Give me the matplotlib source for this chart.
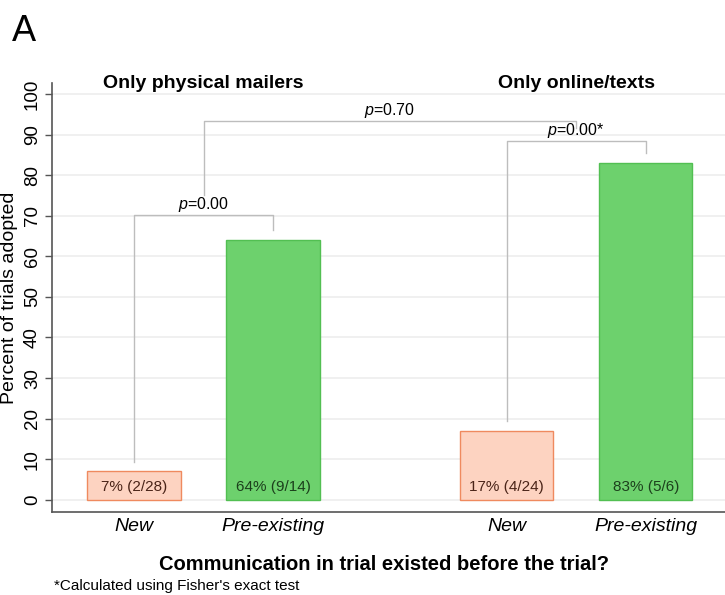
import matplotlib
matplotlib.use("Agg")
import matplotlib.pyplot as plt

plt.rcParams['font.family'] = ['Liberation Sans', 'DejaVu Sans']
plt.rcParams['mathtext.fontset'] = 'custom'
plt.rcParams['mathtext.it'] = 'Liberation Sans:italic'
plt.rcParams['mathtext.rm'] = 'Liberation Sans'

# data
groups = ["Only physical mailers", "Only online/texts"]
categories = ["New", "Pre-existing", "New", "Pre-existing"]
percent = [7, 64, 17, 83]
bar_labels = ["7% (2/28)", "64% (9/14)", "17% (4/24)", "83% (5/6)"]
p_within = ["$p$=0.00", "$p$=0.00*"]
p_between = "$p$=0.70"

xpos = [0, 1, 2.68, 3.68]
face = ["#fdd3c1", "#6dd16d", "#fdd3c1", "#6dd16d"]
edge = ["#ef8a5f", "#52bf52", "#ef8a5f", "#52bf52"]
txtc = ["#4a2418", "#1c401c", "#4a2418", "#1c401c"]
bracket = "#bdbdbd"

fig = plt.figure(figsize=(7.25, 5.95), dpi=100)
ax = fig.add_axes([0.0717, 0.1395, 0.9283, 0.721])

ax.bar(xpos, percent, width=0.67, color=face, edgecolor=edge, linewidth=1.0, zorder=3)
for x, lab, c in zip(xpos, bar_labels, txtc):
    ax.text(x, 3.2, lab, ha="center", va="center", fontsize=11, color=c, zorder=4)

ax.set_xlim(-0.59, 4.25)
ax.set_ylim(-3, 102.7)
ax.set_yticks(range(0, 101, 10))
ax.set_yticklabels([str(v) for v in range(0, 101, 10)], rotation=90, va="center", fontsize=13.5)
ax.set_xticks(xpos)
ax.set_xticklabels(categories, fontsize=14, style="italic")
ax.tick_params(axis="x", length=0, pad=4)
ax.tick_params(axis="y", length=5, width=1, color="#555555", pad=3)
ax.grid(axis="y", color="#eeeeee", linewidth=1.2, zorder=0)
ax.set_axisbelow(True)
for s in ["top", "right"]:
    ax.spines[s].set_visible(False)
for s in ["left", "bottom"]:
    ax.spines[s].set_color("#555555")
    ax.spines[s].set_linewidth(1.2)

ax.set_ylabel("Percent of trials adopted", fontsize=14, va="center")
ax.yaxis.set_label_coords(-0.0624, 0.5)
ax.set_xlabel("Communication in trial existed before the trial?", fontsize=14.5,
              fontweight="bold", va="center")
ax.xaxis.set_label_coords(0.493, -0.1235)

# group titles
mids = [(xpos[0] + xpos[1]) / 2, (xpos[2] + xpos[3]) / 2]
for m, g in zip(mids, groups):
    ax.text(m, 102.5, g, ha="center", va="center", fontsize=14, fontweight="bold")

# within-group brackets
lw = 1.0
tops = [70.2, 88.4]
for i, (m, top, p) in enumerate(zip(mids, tops, p_within)):
    a, b = xpos[2 * i], xpos[2 * i + 1]
    ax.plot([a, a, b, b], [percent[2 * i] + 2.3, top, top, percent[2 * i + 1] + 2.5],
            color=bracket, lw=lw, zorder=2)
    ax.text(m, top + 0.2, p, ha="center", va="bottom", fontsize=11.5)

# between-group bracket
btop = 93.3
ax.plot([mids[0], mids[0], mids[1], mids[1]], [75, btop, btop, 91.5],
        color=bracket, lw=lw, zorder=2)
bm = (mids[0] + mids[1]) / 2
ax.text(bm, btop + 0.2, p_between, ha="center", va="bottom", fontsize=11.5)

fig.text(0.016, 0.953, "A", fontsize=26, ha="left", va="center_baseline")
fig.text(0.075, 0.003, "*Calculated using Fisher's exact test", fontsize=11, ha="left", va="bottom")

fig.savefig("out.png", dpi=100)
